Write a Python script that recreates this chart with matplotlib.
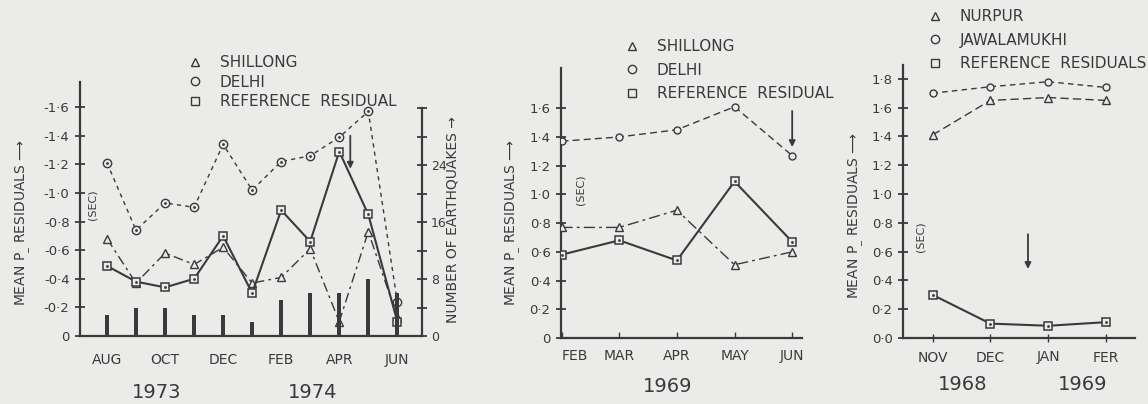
import numpy as np
import matplotlib
matplotlib.use("Agg")
from matplotlib import pyplot as plt
from matplotlib.lines import Line2D

# panel 1: Aug 1973 - Jun 1974
left_months = ['AUG', 'SEP', 'OCT', 'NOV', 'DEC', 'JAN', 'FEB', 'MAR', 'APR', 'MAY', 'JUN']
left_delhi = [1.21, 0.74, 0.93, 0.90, 1.34, 1.02, 1.22, 1.26, 1.39, 1.57, 0.24]
left_shillong = [0.68, 0.37, 0.58, 0.50, 0.62, 0.37, 0.41, 0.61, 0.10, 0.73, 0.13]
left_ref = [0.49, 0.38, 0.34, 0.40, 0.70, 0.30, 0.88, 0.66, 1.29, 0.85, 0.10]
left_quakes = [3, 4, 4, 3, 3, 2, 5, 6, 6, 8, 6]
left_yticks = ['0', '-0·2', '-0·4', '-0·6', '-0·8', '-1·0', '-1·2', '-1·4', '-1·6']

# panel 2: Feb - Jun 1969
mid_months = ['FEB', 'MAR', 'APR', 'MAY', 'JUN']
mid_delhi = [1.37, 1.40, 1.45, 1.61, 1.27]
mid_shillong = [0.77, 0.77, 0.89, 0.51, 0.60]
mid_ref = [0.58, 0.68, 0.54, 1.09, 0.67]
mid_yticks = ['0', '0·2', '0·4', '0·6', '0·8', '1·0', '1·2', '1·4', '1·6']

# panel 3: Nov 1968 - Feb 1969
right_months = ['NOV', 'DEC', 'JAN', 'FER']
right_jawalamukhi = [1.70, 1.745, 1.78, 1.74]
right_nurpur = [1.41, 1.65, 1.67, 1.65]
right_ref = [0.30, 0.10, 0.085, 0.11]
right_yticks = ['0·0', '0·2', '0·4', '0·6', '0·8', '1·0', '1·2', '1·4', '1·6', '1·8']

bg = '#ebebea'
ink = '#3a3a3a'
W, H = 1148, 404

plt.rcParams['font.family'] = 'DejaVu Sans'
plt.rcParams['text.color'] = ink
plt.rcParams['axes.edgecolor'] = ink
plt.rcParams['xtick.color'] = ink
plt.rcParams['ytick.color'] = ink

fig = plt.figure(figsize=(W / 100, H / 100), dpi=100, facecolor=bg)


def px_axes(x0, x1, ytop, ybot):
    return fig.add_axes([x0 / W, (H - ybot) / H, (x1 - x0) / W, (ybot - ytop) / H])


def style(ax, labels, ymax):
    ax.set_facecolor('none')
    for s in ['top', 'right']:
        ax.spines[s].set_visible(False)
    ax.spines['left'].set_linewidth(1.6)
    ax.spines['bottom'].set_linewidth(1.6)
    ax.set_yticks(np.arange(len(labels)) * 0.2)
    ax.set_yticklabels(labels, fontsize=9.5)
    ax.set_ylim(0, ymax)
    ax.tick_params(axis='y', direction='inout', length=7, width=1.3, pad=4)


def station(ax, x, y, marker, dashes, lw=1.0, ms=6):
    ax.plot(x, y, color=ink, lw=lw, dashes=dashes, marker=marker, ms=ms,
            mfc=bg, mec=ink, mew=1.0, zorder=3)


def ref_line(ax, x, y):
    ax.plot(x, y, color=ink, lw=1.5, marker='s', ms=6, mfc=bg, mec=ink, mew=1.1, zorder=4)
    ax.plot(x, y, ls='none', marker='.', ms=2, color=ink, zorder=5)


def legend(names, markers, x, y, spacing):
    handles = [Line2D([], [], ls='none', marker=m, ms=6, mfc=bg, mec=ink, mew=1.0) for m in markers]
    fig.legend(handles, names, loc='upper left', bbox_to_anchor=((x - 6) / W, 1 - y / H),
               frameon=False, fontsize=11, handlelength=0.8, handletextpad=1.2,
               labelspacing=spacing, borderpad=0, borderaxespad=0)


def arrow(ax, x, y0, y1):
    ax.annotate('', xy=(x, y1), xytext=(x, y0),
                arrowprops=dict(arrowstyle='-|>', color=ink, lw=1.3, mutation_scale=9))


# ---- left panel
ax1 = px_axes(80, 422, 82, 336)
style(ax1, left_yticks, 1.776)
xl = np.arange(len(left_months))
ax1.set_xlim(-0.93, 10.85)
ax1.set_xticks(xl)
ax1.set_xticklabels([m if i % 2 == 0 else '' for i, m in enumerate(left_months)], fontsize=10)
ax1.tick_params(axis='x', length=0, pad=12)
station(ax1, xl, left_delhi, 'o', (3, 3), ms=6)
ax1.plot(xl, left_delhi, ls='none', marker='.', ms=2, color=ink, zorder=5)
station(ax1, xl, left_shillong, '^', (7, 3, 2, 3))
ref_line(ax1, xl, left_ref)
arrow(ax1, 8.38, 1.42, 1.15)

ax1r = ax1.twinx()
ax1r.set_facecolor('none')
ax1r.bar(xl, left_quakes, width=0.14, color=ink, zorder=2)
ax1r.set_ylim(0, 35.65)
for s in ['top', 'left', 'bottom']:
    ax1r.spines[s].set_visible(False)
ax1r.spines['right'].set_linewidth(1.6)
ax1r.spines['right'].set_bounds(0, 32)
ax1r.set_yticks([0, 8, 16, 24])
ax1r.set_yticks([4, 12, 20, 28, 32], minor=True)
ax1r.tick_params(axis='y', which='both', direction='inout', length=7, width=1.3, labelsize=9, pad=3)

legend(['SHILLONG', 'DELHI', 'REFERENCE  RESIDUAL'], ['^', 'o', 's'], 195, 55, 0.31)
fig.text(23 / W, 1 - 222 / H, 'MEAN P$_{\\_}$ RESIDUALS \u27f6', rotation=90,
         ha='center', va='center', fontsize=10)
fig.text(93 / W, 1 - 205 / H, '(SEC)', rotation=90, ha='center', va='center', fontsize=8)
fig.text(453 / W, 1 - 220 / H, 'NUMBER OF EARTHQUAKES \u2192', rotation=90,
         ha='center', va='center', fontsize=10)
fig.text(157 / W, 1 - 393 / H, '1973', ha='center', va='center', fontsize=14)
fig.text(313 / W, 1 - 393 / H, '1974', ha='center', va='center', fontsize=14)

# ---- middle panel
ax2 = px_axes(561, 802, 68, 338)
style(ax2, mid_yticks, 1.88)
xm = np.arange(len(mid_months))
ax2.set_xlim(-0.01, 4.17)
ax2.set_xticks(xm)
ax2.set_xticklabels(mid_months, fontsize=10)
ax2.get_xticklabels()[0].set_horizontalalignment('left')
ax2.tick_params(axis='x', direction='in', length=4, width=1.0, pad=8)
station(ax2, xm, mid_delhi, 'o', (5, 3), ms=5)
station(ax2, xm, mid_shillong, '^', (8, 3, 2, 3))
ref_line(ax2, xm, mid_ref)
arrow(ax2, 4.0, 1.6, 1.31)

legend(['SHILLONG', 'DELHI', 'REFERENCE  RESIDUAL'], ['^', 'o', 's'], 632, 39, 0.57)
fig.text(513 / W, 1 - 222 / H, 'MEAN P$_{\\_}$ RESIDUALS \u27f6', rotation=90,
         ha='center', va='center', fontsize=10)
fig.text(580 / W, 1 - 190 / H, '(SEC)', rotation=90, ha='center', va='center', fontsize=8)
fig.text(668 / W, 1 - 386 / H, '1969', ha='center', va='center', fontsize=14)

# ---- right panel
ax3 = px_axes(903, 1135, 65, 338)
style(ax3, right_yticks, 1.896)
xr = np.arange(len(right_months))
ax3.set_xlim(-0.51, 3.5)
ax3.set_xticks(xr)
ax3.set_xticklabels(right_months, fontsize=10)
ax3.tick_params(axis='x', direction='inout', length=6, width=1.0, pad=6)
station(ax3, xr, right_jawalamukhi, 'o', (4, 3), ms=5)
station(ax3, xr, right_nurpur, '^', (6, 3))
ref_line(ax3, xr, right_ref)
arrow(ax3, 1.65, 0.74, 0.46)

legend(['NURPUR', 'JAWALAMUKHI', 'REFERENCE  RESIDUALS'], ['^', 'o', 's'], 935, 9, 0.57)
fig.text(856 / W, 1 - 215 / H, 'MEAN P$_{\\_}$ RESIDUALS \u27f6', rotation=90,
         ha='center', va='center', fontsize=10)
fig.text(921 / W, 1 - 237 / H, '(SEC)', rotation=90, ha='center', va='center', fontsize=8)
fig.text(963 / W, 1 - 385 / H, '1968', ha='center', va='center', fontsize=14)
fig.text(1083 / W, 1 - 385 / H, '1969', ha='center', va='center', fontsize=14)

fig.savefig('out.png', dpi=100, facecolor=bg)
